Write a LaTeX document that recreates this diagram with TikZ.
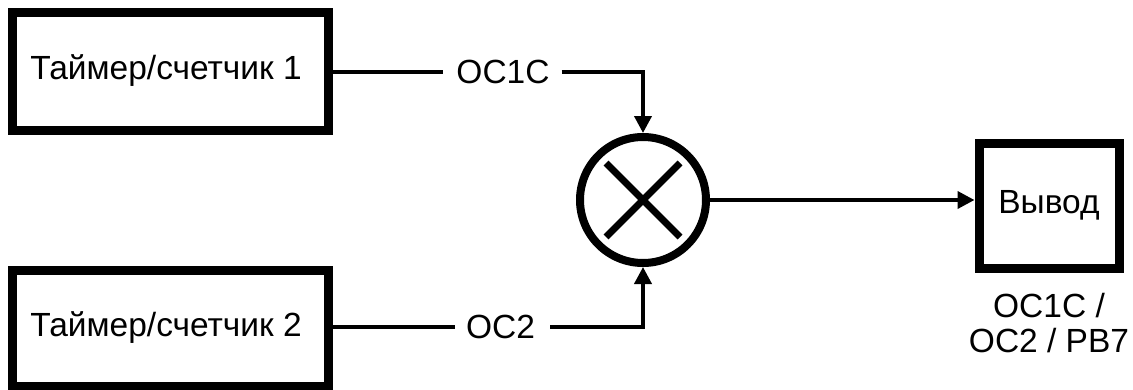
\documentclass[tikz,border=0pt]{standalone}
\usepackage{fontspec}
\setmainfont{Liberation Sans}
\usetikzlibrary{arrows.meta,calc}
\begin{document}
\begin{tikzpicture}[x=1pt,y=-1pt,
  blk/.style={draw=black,line width=9pt,minimum width=316pt,minimum height=118pt,inner sep=0pt,
    font=\fontsize{33.5}{37}\selectfont},
  lbl/.style={font=\fontsize{33.5}{37}\selectfont,inner sep=0pt},
  wire/.style={line width=3.8pt},
  arr/.style={wire,-{Triangle[length=17pt,width=17pt]}}]
\useasboundingbox (0,0) rectangle (1133,389);
\node[blk] (t1) at (170,71) {\hspace*{-8pt}Таймер/счетчик 1};
\node[blk,minimum height=116pt] (t2) at (170,328) {\hspace*{-8pt}Таймер/счетчик 2};
\node[draw=black,line width=8pt,circle,minimum size=126pt,inner sep=0pt] (mx) at (643,200) {};
\draw[line width=7pt] ($(mx.center)+(-37,-37)$) -- ($(mx.center)+(37,37)$);
\draw[line width=7pt] ($(mx.center)+(-37,37)$) -- ($(mx.center)+(37,-37)$);
\node[blk,minimum width=140pt,minimum height=125pt] (out) at (1049,205.5) {Вывод};
\node[lbl] (l1) at (503,72) {OC1C};
\node[lbl] (l2) at (500.5,327) {OC2};
\node[lbl,align=center,font=\fontsize{33.5}{35}\selectfont] (pins) at (1049,323) {OC1C /\\OC2 / PB7};
\coordinate (c1) at (643,72);
\coordinate (c2) at (643,327);
\draw[wire] (t1.east |- l1) -- ++(110,0);
\draw[wire] (l1.east) ++(12,0) -- (c1) -- ++(0,1);
\draw[arr] (c1) -- (mx.north);
\draw[wire] (t2.east |- l2) -- ++(122,0);
\draw[wire] (l2.east) ++(15,0) -- (c2) -- ++(0,-1);
\draw[arr] (c2) -- (mx.south);
\draw[arr] (mx.east) -- (mx.east -| out.west);
\end{tikzpicture}
\end{document}
